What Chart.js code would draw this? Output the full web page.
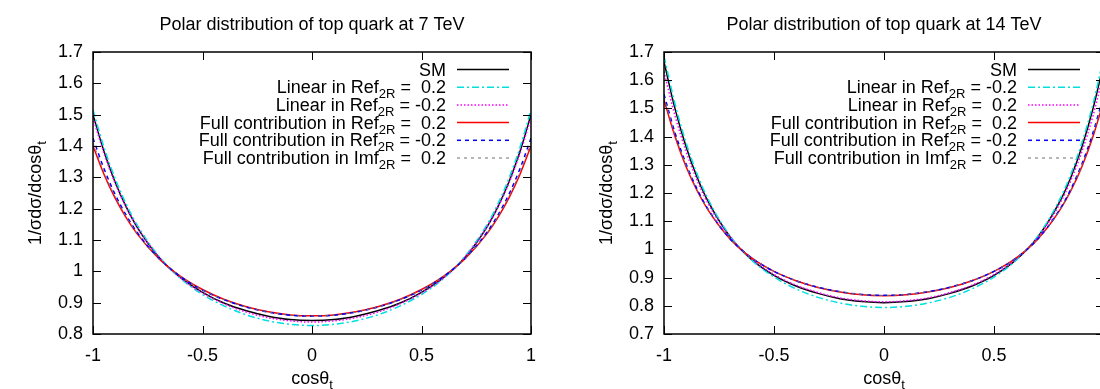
<!DOCTYPE html>
<html><head><meta charset="utf-8">
<script src="https://cdn.jsdelivr.net/npm/chart.js@4.4.0/dist/chart.umd.min.js"></script>
<style>
html,body{margin:0;padding:0;background:#fff;overflow:hidden;width:1100px;height:389px;}
#w1{position:absolute;left:0;top:0;width:550px;height:389px;}
#w2{position:absolute;left:550px;top:0;width:570px;height:389px;}
canvas{display:block;}
</style></head><body>
<div id="w1"><canvas id="c1" width="550" height="389"></canvas></div>
<div id="w2"><canvas id="c2" width="570" height="389"></canvas></div>
<script>
// ---------------- data ----------------
const cosTheta = [-1,-0.95,-0.9,-0.85,-0.8,-0.7,-0.6,-0.5,-0.4,-0.3,-0.2,-0.1,0,0.1,0.2,0.3,0.4,0.5,0.6,0.7,0.8,0.85,0.9,0.95,1];
const xTicks = [-1,-0.5,0,0.5,1];

const title7 = "Polar distribution of top quark at 7 TeV";
const title14 = "Polar distribution of top quark at 14 TeV";
const yTicks7 = [0.8,0.9,1,1.1,1.2,1.3,1.4,1.5,1.6,1.7];
const yTicks14 = [0.7,0.8,0.9,1,1.1,1.2,1.3,1.4,1.5,1.6,1.7];

// 7 TeV
const sm7      = [1.500,1.383,1.287,1.208,1.143,1.046,0.980,0.933,0.898,0.874,0.857,0.846,0.843,0.846,0.857,0.874,0.898,0.933,0.980,1.046,1.143,1.208,1.287,1.383,1.500];
const linP7    = [1.515,1.396,1.298,1.217,1.150,1.049,0.977,0.926,0.889,0.861,0.842,0.831,0.827,0.831,0.842,0.861,0.889,0.926,0.977,1.049,1.150,1.217,1.298,1.396,1.515];
const linM7    = [1.490,1.377,1.283,1.206,1.143,1.046,0.979,0.931,0.896,0.870,0.852,0.842,0.838,0.842,0.852,0.870,0.896,0.931,0.979,1.046,1.143,1.206,1.283,1.377,1.490];
const fullP7   = [1.400,1.310,1.235,1.173,1.121,1.041,0.984,0.942,0.910,0.887,0.871,0.861,0.858,0.861,0.871,0.887,0.910,0.942,0.984,1.041,1.121,1.173,1.235,1.310,1.400];
const fullM7   = [1.425,1.328,1.247,1.181,1.126,1.042,0.983,0.940,0.909,0.886,0.870,0.860,0.857,0.860,0.870,0.886,0.909,0.940,0.983,1.042,1.126,1.181,1.247,1.328,1.425];
const fullIm7  = [1.410,1.317,1.240,1.176,1.123,1.041,0.983,0.941,0.909,0.886,0.870,0.860,0.857,0.860,0.870,0.886,0.909,0.941,0.983,1.041,1.123,1.176,1.240,1.317,1.410];

// 14 TeV
const sm14     = [1.665,1.499,1.365,1.257,1.171,1.045,0.963,0.908,0.870,0.844,0.825,0.815,0.811,0.815,0.825,0.844,0.870,0.908,0.963,1.045,1.171,1.257,1.365,1.499,1.665];
const linM14   = [1.685,1.516,1.379,1.268,1.179,1.048,0.961,0.902,0.860,0.830,0.810,0.798,0.794,0.798,0.810,0.830,0.860,0.902,0.961,1.048,1.179,1.268,1.379,1.516,1.685];
const linP14   = [1.630,1.474,1.348,1.246,1.163,1.044,0.965,0.911,0.873,0.847,0.828,0.818,0.814,0.818,0.828,0.847,0.873,0.911,0.965,1.044,1.163,1.246,1.348,1.474,1.630];
const fullP14  = [1.530,1.400,1.294,1.209,1.140,1.037,0.969,0.922,0.889,0.865,0.849,0.839,0.836,0.839,0.849,0.865,0.889,0.922,0.969,1.037,1.140,1.209,1.294,1.400,1.530];
const fullM14  = [1.550,1.414,1.304,1.215,1.143,1.038,0.969,0.922,0.889,0.866,0.850,0.840,0.837,0.840,0.850,0.866,0.889,0.922,0.969,1.038,1.143,1.215,1.304,1.414,1.550];
const fullIm14 = [1.540,1.407,1.299,1.212,1.141,1.038,0.969,0.922,0.889,0.866,0.850,0.840,0.837,0.840,0.850,0.866,0.889,0.922,0.969,1.038,1.141,1.212,1.299,1.407,1.540];

// legend labels (rich text parts)
const L_SM = [{t:"SM"}];
const L_linP = [{t:"Linear in Ref"},{t:"2R",sub:true},{t:" =  0.2"}];
const L_linM = [{t:"Linear in Ref"},{t:"2R",sub:true},{t:" = -0.2"}];
const L_fullP = [{t:"Full contribution in Ref"},{t:"2R",sub:true},{t:" =  0.2"}];
const L_fullM = [{t:"Full contribution in Ref"},{t:"2R",sub:true},{t:" = -0.2"}];
const L_fullIm = [{t:"Full contribution in Imf"},{t:"2R",sub:true},{t:" =  0.2"}];
const xTitle = [{t:"cos\u03b8"},{t:"t",sub:true}];
const yTitle = [{t:"1/\u03c3d\u03c3/dcos\u03b8"},{t:"t",sub:true}];

// ---------------- styles ----------------
const FONT = "'Liberation Sans', Arial, Helvetica, sans-serif";
const FS = 18, SUBFS = 13;
const ST = {
  sm:   {color:'#000000', dash:[], width:1.5},
  lin1: {color:'#00e0e0', dash:[7,3,2,3], width:1.5},
  lin2: {color:'#ff00ff', dash:[1.5,2], width:1.5},
  fullP:{color:'#ff0000', dash:[], width:1.5},
  fullM:{color:'#0000ff', dash:[4,4], width:1.5},
  fullI:{color:'#707070', dash:[3,4], width:1},
};

function richWidth(ctx, parts){
  let w=0;
  for(const p of parts){ ctx.font=(p.sub?SUBFS:FS)+'px '+FONT; w+=ctx.measureText(p.t).width; }
  return w;
}
function drawRich(ctx, parts, x, y){
  for(const p of parts){
    ctx.font=(p.sub?SUBFS:FS)+'px '+FONT;
    ctx.fillText(p.t, x, y+(p.sub?5:0));
    x+=ctx.measureText(p.t).width;
  }
}

const decor = {
  id:'decor',
  afterDatasetsDraw(chart){
    const {ctx, chartArea:a, scales:{x,y}} = chart;
    const o = chart.options.plugins.decor;
    ctx.save();
    ctx.strokeStyle='#000'; ctx.lineWidth=1; ctx.setLineDash([]);
    const tl=8;
    ctx.beginPath();
    y.ticks.forEach(t=>{const py=Math.round(y.getPixelForValue(t.value))+0.5;
      ctx.moveTo(a.left,py);ctx.lineTo(a.left+tl,py);ctx.moveTo(a.right,py);ctx.lineTo(a.right-tl,py);});
    x.ticks.forEach(t=>{const px=Math.round(x.getPixelForValue(t.value))+0.5;
      ctx.moveTo(px,a.bottom);ctx.lineTo(px,a.bottom-tl);ctx.moveTo(px,a.top);ctx.lineTo(px,a.top+tl);});
    ctx.stroke();
    ctx.lineWidth=1.5;
    ctx.strokeRect(a.left,a.top,a.right-a.left,a.bottom-a.top);
    ctx.textBaseline='alphabetic'; ctx.textAlign='left';
    const textRight=a.left+353, l0=a.left+364, l1=a.left+416;
    chart.data.datasets.forEach((ds,i)=>{
      const ry=a.top+17+i*17.7;
      const parts=o.labels[i];
      const w=richWidth(ctx,parts);
      ctx.fillStyle='#000';
      drawRich(ctx,parts,textRight-w,ry+6.5);
      ctx.beginPath(); ctx.strokeStyle=ds.borderColor; ctx.lineWidth=ds.borderWidth;
      ctx.setLineDash(ds.borderDash||[]);
      ctx.moveTo(l0,ry+0.5); ctx.lineTo(l1,ry+0.5); ctx.stroke();
    });
    ctx.setLineDash([]);
    ctx.fillStyle='#000';
    const xw=richWidth(ctx,xTitle);
    drawRich(ctx,xTitle,(a.left+a.right)/2-xw/2,384);
    const yw=richWidth(ctx,yTitle);
    ctx.translate(a.left-o.yTitleGap,(a.top+a.bottom)/2);
    ctx.rotate(-Math.PI/2);
    drawRich(ctx,yTitle,-yw/2,6);
    ctx.restore();
  }
};

function fmt(v){ return String(Number(Number(v).toFixed(1))); }

function makeChart(id, cfg){
  return new Chart(document.getElementById(id), {
    type:'line',
    data:{datasets: cfg.series.map((s,i)=>({
      label:s.label,
      data: cosTheta.map((c,j)=>({x:c,y:s.values[j]})),
      borderColor:s.style.color, borderDash:s.style.dash, borderWidth:s.style.width,
      pointRadius:0, cubicInterpolationMode:'monotone', fill:false, order:10-i
    }))},
    options:{
      responsive:false, animation:false,
      layout:{padding:{left:0,right:cfg.padRight,top:0,bottom:0}},
      plugins:{
        legend:{display:false}, tooltip:{enabled:false},
        title:{display:true, text:cfg.title, fullSize:false, color:'#000',
               font:{family:FONT,size:FS,weight:'normal'}, padding:{top:14,bottom:16.4}},
        decor:{labels:cfg.series.map(s=>s.parts), yTitleGap:58}
      },
      scales:{
        x:{type:'linear', min:-1, max:1,
           grid:{display:false, drawTicks:false}, border:{display:false},
           afterBuildTicks(s){ s.ticks = xTicks.map(v=>({value:v})); },
           ticks:{color:'#000', font:{family:FONT,size:FS}, padding:11, maxRotation:0, autoSkip:false, callback:v=>fmt(v)},
           afterFit(s){ s.height=55; }},
        y:{type:'linear', min:cfg.yTicks[0], max:cfg.yTicks[cfg.yTicks.length-1],
           grid:{display:false, drawTicks:false}, border:{display:false},
           afterBuildTicks(s){ s.ticks = cfg.yTicks.map(v=>({value:v})); },
           ticks:{color:'#000', font:{family:FONT,size:FS}, padding:10, autoSkip:false, callback:v=>fmt(v)},
           afterFit(s){ s.width=cfg.yWidth; }}
      }
    },
    plugins:[decor]
  });
}

makeChart('c1', {
  title:title7, yTicks:yTicks7, yWidth:93, padRight:19,
  series:[
    {label:"SM", parts:L_SM, values:sm7, style:ST.sm},
    {label:"Linear in Ref2R = 0.2", parts:L_linP, values:linP7, style:ST.lin1},
    {label:"Linear in Ref2R = -0.2", parts:L_linM, values:linM7, style:ST.lin2},
    {label:"Full contribution in Ref2R = 0.2", parts:L_fullP, values:fullP7, style:ST.fullP},
    {label:"Full contribution in Ref2R = -0.2", parts:L_fullM, values:fullM7, style:ST.fullM},
    {label:"Full contribution in Imf2R = 0.2", parts:L_fullIm, values:fullIm7, style:ST.fullI}
  ]
});
makeChart('c2', {
  title:title14, yTicks:yTicks14, yWidth:114, padRight:16,
  series:[
    {label:"SM", parts:L_SM, values:sm14, style:ST.sm},
    {label:"Linear in Ref2R = -0.2", parts:L_linM, values:linM14, style:ST.lin1},
    {label:"Linear in Ref2R = 0.2", parts:L_linP, values:linP14, style:ST.lin2},
    {label:"Full contribution in Ref2R = 0.2", parts:L_fullP, values:fullP14, style:ST.fullP},
    {label:"Full contribution in Ref2R = -0.2", parts:L_fullM, values:fullM14, style:ST.fullM},
    {label:"Full contribution in Imf2R = 0.2", parts:L_fullIm, values:fullIm14, style:ST.fullI}
  ]
});
</script>
</body></html>
